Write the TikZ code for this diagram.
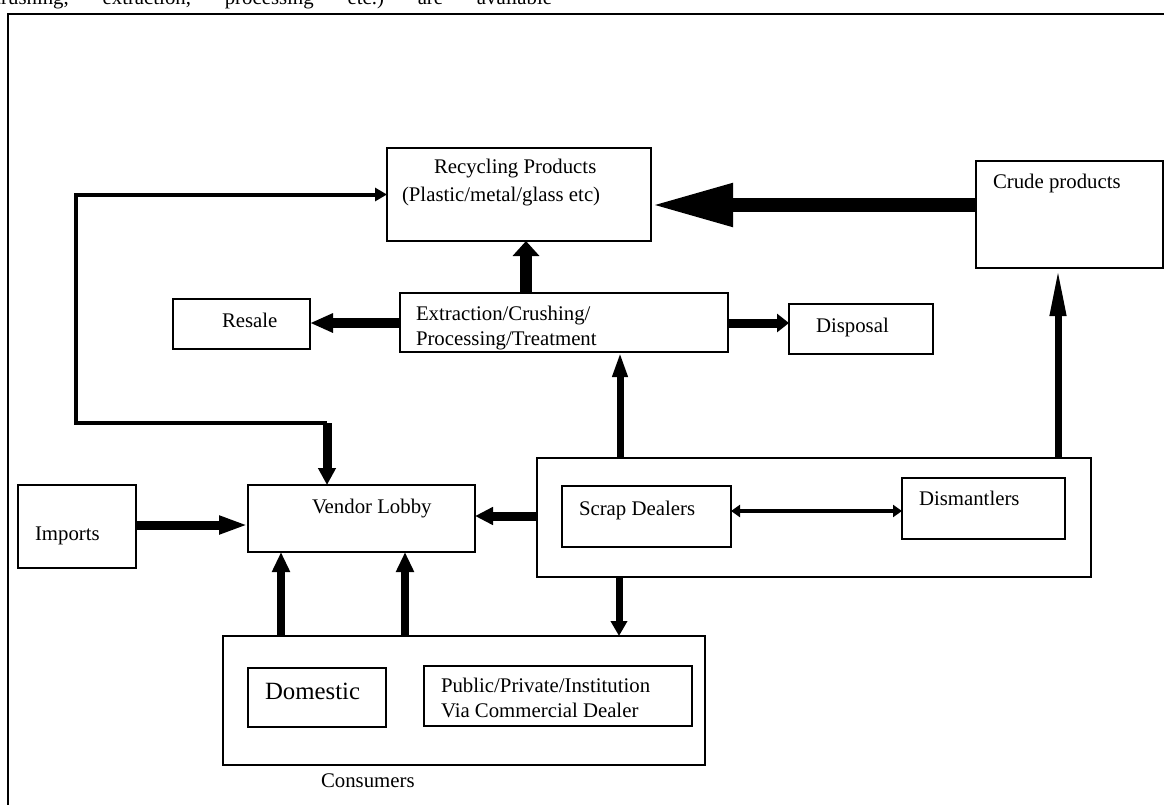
\documentclass[tikz,border=0pt]{standalone}
\usepackage{fontspec}
\setmainfont{Liberation Serif}
\usetikzlibrary{arrows.meta}
\tikzset{
  box/.style={draw, line width=1.3pt, rectangle, inner sep=0pt, outer sep=0pt},
  txt/.style={anchor=base west, inner sep=0pt, outer sep=0pt},
  thinline/.style={line width=4pt},
}
\newcommand\mkbox[5]{\node[box, minimum width={(#4-#2)*1pt}, minimum height={(#5-#3)*1pt}] (#1) at ({(#2+#4)/2},{(#3+#5)/2}) {};}
\begin{document}
\begin{tikzpicture}[x=1pt, y=-1pt, font=\fontsize{20.8}{24}\selectfont]
\clip (0,0) rectangle (1164,804);
\fill[white] (0,0) rectangle (1164,804);
% top text (cut off)
\node[txt] (toptext) at (-8,4) {\hbox to 560pt{crushing,\hfill extraction,\hfill processing\hfill etc.)\hfill are\hfill available}};
% outer frame
\draw[line width=2pt] (8,820) -- (8,14) -- (1180,14);
% boxes
\mkbox{rec}{387}{148}{651}{241}
\mkbox{crude}{976}{161}{1163}{268}
\mkbox{extr}{400}{293}{728}{352}
\mkbox{resale}{173}{299}{310}{349}
\mkbox{disposal}{789}{304}{933}{354}
\mkbox{scrapbox}{537}{458}{1091}{577}
\mkbox{scrap}{562}{486}{731}{547}
\mkbox{dism}{902}{478}{1065}{539}
\mkbox{imports}{18}{485}{136}{568}
\mkbox{vendor}{248}{485}{475}{552}
\mkbox{consumers}{223}{636}{705}{765}
\mkbox{domestic}{248}{668}{386}{727}
\mkbox{public}{424}{666}{692}{726}
% texts
\node[txt] (t-rec1) at (434,173) {Recycling Products};
\node[txt] (t-rec2) at (402,201) {(Plastic/metal/glass etc)};
\node[txt] (t-crude) at (993,188) {Crude products};
\begin{scope}
\clip (401,294) rectangle (727,351);
\node[txt] (t-ext1) at (416,320) {Extraction/Crushing/};
\node[txt] (t-ext2) at (416,345) {Processing/Treatment};
\end{scope}
\node[txt] (t-resale) at (222,327) {Resale};
\node[txt] (t-disp) at (816,332) {Disposal};
\node[txt] (t-scrap) at (579,515) {Scrap Dealers};
\node[txt] (t-dism) at (919,505) {Dismantlers};
\node[txt] (t-imp) at (35,540) {Imports};
\node[txt] (t-vendor) at (312,513) {Vendor Lobby};
\node[txt, font=\fontsize{24.8}{28}\selectfont] (t-dom) at (265,699) {Domestic};
\node[txt] (t-pub1) at (441,692) {Public/Private/Institution};
\node[txt] (t-pub2) at (441,717) {Via Commercial Dealer};
\node[txt] (t-cons) at (321,787) {Consumers};
% connectors
\draw[line width=14pt, -{Triangle[length=82pt, width=40pt]}] (crude.west |- 0,205) -- (rec.east |- 0,205);
\draw[line width=12pt, -{Triangle[length=15pt, width=26pt]}] (extr.north -| 526,0) -- (rec.south -| 526,0);
\draw[line width=10pt, -{Triangle[length=23pt, width=18pt]}] (extr.west |- 0,323) -- (resale.east |- 0,323);
\draw[line width=9pt, -{Triangle[length=12pt, width=18pt]}] (extr.east |- 0,323) -- (disposal.west |- 0,323);
\draw[line width=7pt, -{Triangle[length=25pt, width=14pt]}] (scrapbox.north -| 620,0) -- (extr.south -| 620,0);
\draw[line width=7pt, -{Triangle[length=48pt, width=15pt]}] (scrapbox.north -| 1058,0) -- (crude.south -| 1058,0);
\coordinate (corner) at (327,423);
\coordinate (lc) at (76,423);
\draw[thinline, -{Triangle[length=12pt, width=13pt]}] (corner) -- (lc) |- (rec.west);
\draw[line width=9pt, -{Triangle[length=17pt, width=17pt]}] (corner) -- (corner |- vendor.north);
\draw[line width=9pt, -{Triangle[length=29pt, width=17pt]}] (imports.east |- 0,525) -- (vendor.west |- 0,525);
\draw[line width=9pt, -{Triangle[length=18pt, width=17pt]}] (scrapbox.west |- 0,516) -- (vendor.east |- 0,516);
\draw[line width=8pt, -{Triangle[length=20pt, width=17pt]}] (consumers.north -| 281,0) -- (vendor.south -| 281,0);
\draw[line width=8pt, -{Triangle[length=20pt, width=17pt]}] (consumers.north -| 405,0) -- (vendor.south -| 405,0);
\draw[line width=7pt, -{Triangle[length=15pt, width=16pt]}] (scrapbox.south -| 619,0) -- (consumers.north -| 619,0);
\draw[line width=4pt, {Triangle[length=9pt, width=12pt]}-{Triangle[length=9pt, width=12pt]}] (scrap.east |- 0,511) -- (dism.west |- 0,511);
\end{tikzpicture}
\end{document}
